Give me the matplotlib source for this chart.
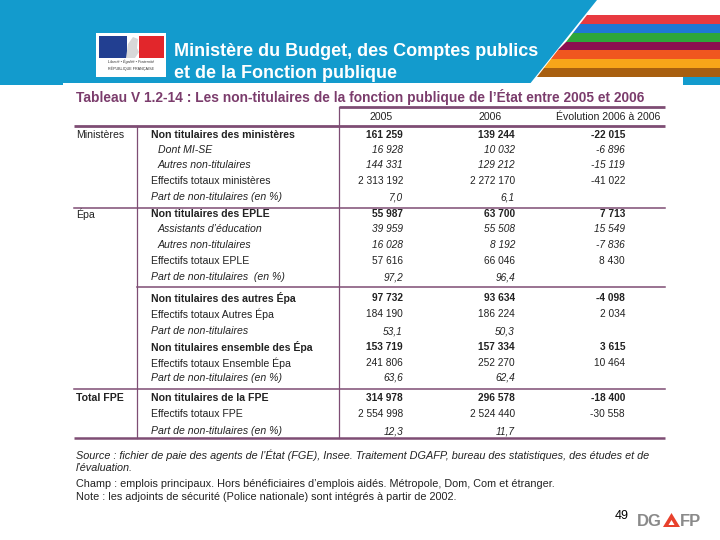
import matplotlib
matplotlib.use("Agg")
import matplotlib.pyplot as plt
from matplotlib.patches import Polygon, Rectangle

plt.rcParams["font.family"] = ["Liberation Sans", "DejaVu Sans"]

HEADER_LINES = ["Ministère du Budget, des Comptes publics", "et de la Fonction publique"]
TABLE_TITLE = "Tableau V 1.2-14 : Les non-titulaires de la fonction publique de l’État entre 2005 et 2006"
COLUMNS = ["2005", "2006", "Évolution 2006 à 2006"]

GROUP_LABELS = ["Ministères", "Épa", "Total FPE"]
GROUP_FIRST_ROW = [0, 5, 16]

ROW_LABELS = [
    "Non titulaires des ministères",
    "Dont MI-SE",
    "Autres non-titulaires",
    "Effectifs totaux ministères",
    "Part de non-titulaires (en %)",
    "Non titulaires des EPLE",
    "Assistants d’éducation",
    "Autres non-titulaires",
    "Effectifs totaux EPLE",
    "Part de non-titulaires  (en %)",
    "Non titulaires des autres Épa",
    "Effectifs totaux Autres Épa",
    "Part de non-titulaires",
    "Non titulaires ensemble des Épa",
    "Effectifs totaux Ensemble Épa",
    "Part de non-titulaires (en %)",
    "Non titulaires de la FPE",
    "Effectifs totaux FPE",
    "Part de non-titulaires (en %)",
]
# b = bold, s = sub-item (italic, indented), n = normal, p = share in % (italic)
ROW_KIND = ["b", "s", "s", "n", "p",
            "b", "s", "s", "n", "p",
            "b", "n", "p", "b", "n", "p",
            "b", "n", "p"]

VALUES_2005 = [161259, 16928, 144331, 2313192, 7.0,
               55987, 39959, 16028, 57616, 97.2,
               97732, 184190, 53.1, 153719, 241806, 63.6,
               314978, 2554998, 12.3]
VALUES_2006 = [139244, 10032, 129212, 2272170, 6.1,
               63700, 55508, 8192, 66046, 96.4,
               93634, 186224, 50.3, 157334, 252270, 62.4,
               296578, 2524440, 11.7]
EVOLUTION = [-22015, -6896, -15119, -41022, None,
             7713, 15549, -7836, 8430, None,
             -4098, 2034, None, 3615, 10464, None,
             -18400, -30558, None]

SOURCE_LINES = [
    ("Source : fichier de paie des agents de l’État (FGE), Insee. Traitement DGAFP, bureau des statistiques, des études et de", "italic"),
    ("l’évaluation.", "italic"),
    ("Champ : emplois principaux. Hors bénéficiaires d’emplois aidés. Métropole, Dom, Com et étranger.", "normal"),
    ("Note : les adjoints de sécurité (Police nationale) sont intégrés à partir de 2002.", "normal"),
]
PAGE_NUMBER = "49"

STRIPE_COLORS = ["#e83a40", "#1f78d4", "#2ea63a", "#8c0f50", "#f0561f", "#f8a519", "#a85f10"]

# layout (pixels, y downwards)
ROW_Y = [135, 150, 165, 181, 197,
         214, 229, 245, 261, 277,
         298, 314, 331, 347, 363, 378,
         398, 414, 431]
SOURCE_Y = [455, 468, 484, 497]
COL_RIGHT = [403, 515, 625]
COL_HEAD_X = [381, 490, 608]
BLUE = "#139bcd"
PURPLE = "#7b3c6c"
LINE = "#7e4d74"
INK = "#222222"


def fmt(v):
    if v is None:
        return ""
    if isinstance(v, float):
        return f"{v:.1f}".replace(".", ",")
    return f"{v:,}".replace(",", " ")


fig = plt.figure(figsize=(7.2, 5.4), dpi=100)
ax = fig.add_axes([0, 0, 1, 1])
ax.set_xlim(0, 720)
ax.set_ylim(540, 0)
ax.axis("off")

# ---- banner
ax.add_patch(Rectangle((0, 0), 720, 85, color=BLUE, lw=0))
ax.add_patch(Polygon([(597, 0), (720, 0), (720, 77), (683, 77), (683, 85), (529, 85)],
                     closed=True, color="white", lw=0))
ax.add_patch(Rectangle((63, 83), 620, 3, color="white", lw=0))
y0 = 15.0
h = 62.0 / len(STRIPE_COLORS)
for i, c in enumerate(STRIPE_COLORS):
    ya, yb = y0 + i * h, y0 + (i + 1) * h
    xa, xb = 599 - 0.805 * ya, 599 - 0.805 * yb
    ax.add_patch(Polygon([(xa, ya), (720, ya), (720, yb), (xb, yb)], closed=True, color=c, lw=0))

# logo
ax.add_patch(Rectangle((96, 33), 70, 44, color="white", lw=0))
ax.add_patch(Rectangle((99, 36), 28, 22, color="#223f91", lw=0))
ax.add_patch(Rectangle((139, 36), 25, 22, color="#e2262b", lw=0))
ax.add_patch(Polygon([(126, 58), (128, 44), (133, 37), (138, 39), (137, 48), (139, 52), (135, 58)],
                     closed=True, color="#d8d8d8", lw=0))
ax.text(131, 62, "Liberté • Égalité • Fraternité", fontsize=2.7, style="italic", color="#333333",
        ha="center", va="center")
ax.text(131, 69, "RÉPUBLIQUE FRANÇAISE", fontsize=2.7, color="#333333", ha="center", va="center")

for i, line in enumerate(HEADER_LINES):
    ax.text(174, 51 + i * 22, line, fontsize=13, fontweight="bold", color="white",
            family=["Liberation Sans Narrow", "Liberation Sans"], ha="left", va="center")

# ---- table
ax.text(76, 97, TABLE_TITLE, fontsize=9.9, fontweight="bold", color=PURPLE, ha="left", va="center")

ax.plot([339, 665], [107, 107], color=LINE, lw=2.0, solid_capstyle="butt")
ax.plot([74, 665], [126, 126], color=LINE, lw=2.0, solid_capstyle="butt")
ax.plot([137, 137], [126, 438], color=LINE, lw=0.9)
ax.plot([339, 339], [107, 438], color=LINE, lw=0.9)
ax.plot([74, 665], [208, 208], color=LINE, lw=1.1)
ax.plot([137, 665], [287, 287], color=LINE, lw=1.1)
ax.plot([74, 665], [389, 389], color=LINE, lw=1.1)
ax.plot([74, 665], [438, 438], color=LINE, lw=1.8, solid_capstyle="butt")

for x, name in zip(COL_HEAD_X, COLUMNS):
    ax.text(x, 117, name, fontsize=7.6, color=INK, ha="center", va="center")

for name, r in zip(GROUP_LABELS, GROUP_FIRST_ROW):
    ax.text(76, ROW_Y[r], name, fontsize=7.6, color=INK, ha="left", va="center",
            fontweight="bold" if name == "Total FPE" else "normal")

for r, label in enumerate(ROW_LABELS):
    kind = ROW_KIND[r]
    weight = "bold" if kind == "b" else "normal"
    style = "italic" if kind in "sp" else "normal"
    x = 158 if kind == "s" else 151
    y = ROW_Y[r]
    ax.text(x, y, label, fontsize=7.6, color=INK, fontweight=weight, style=style, ha="left", va="center")
    for xr, vals in zip(COL_RIGHT, (VALUES_2005, VALUES_2006, EVOLUTION)):
        ax.text(xr, y, fmt(vals[r]), fontsize=7.3, color=INK, fontweight=weight, style=style,
                ha="right", va="center")

# ---- notes
for (line, style), ys in zip(SOURCE_LINES, SOURCE_Y):
    ax.text(76, ys, line, fontsize=7.85, color=INK, style=style, ha="left", va="center")

ax.text(615, 516, PAGE_NUMBER, fontsize=9, color="black", ha="left", va="center")
ax.text(637, 521, "DG", fontsize=12, fontweight="bold", color="#8a8a8a", ha="left", va="center")
ax.add_patch(Polygon([(663, 527), (680, 527), (671.5, 513)], closed=True, color="#e8412c", lw=0))
ax.add_patch(Polygon([(668.5, 525), (674.5, 525), (671.5, 520)], closed=True, color="white", lw=0))
ax.text(680, 521, "FP", fontsize=12, fontweight="bold", color="#8a8a8a", ha="left", va="center")

fig.savefig("out.png", dpi=100)
